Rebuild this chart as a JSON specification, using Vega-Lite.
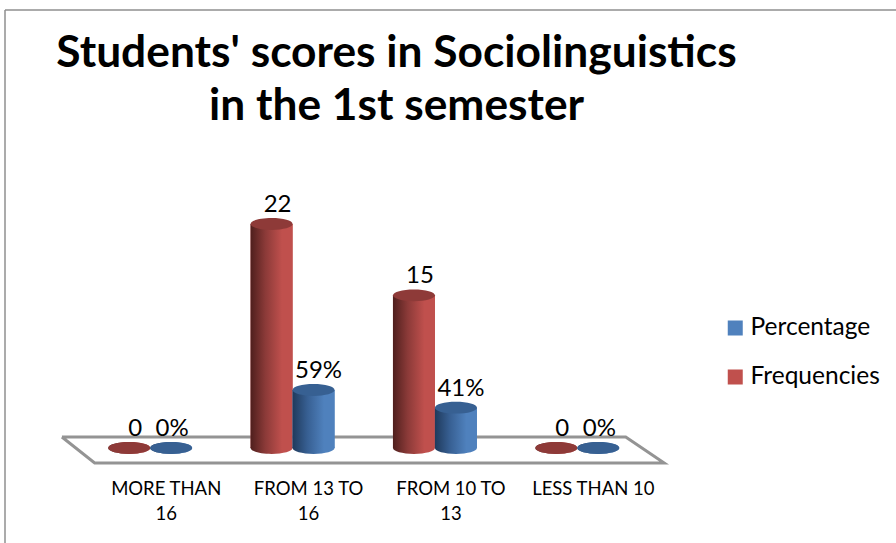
{
"$schema":"https://vega.github.io/schema/vega-lite/v6.json",
"width":891,"height":533,
"autosize":{"type":"none"},
"padding":{"left":5,"top":10,"right":0,"bottom":0},
"background":"white",
"config":{"view":{"stroke":null}},
"title":{"text":["Students' scores in Sociolinguistics","in the 1st semester"],"font":"Lato","fontWeight":"bold","fontSize":44.3,"lineHeight":53,"color":"#000000","anchor":"middle","frame":"group","dx":-54,"baseline":"top","offset":-120},
"datasets":{
"bars":[
{"category":"MORE THAN 16","series":"Frequencies","value":0},
{"category":"FROM 13 TO 16","series":"Frequencies","value":22},
{"category":"FROM 10 TO 13","series":"Frequencies","value":15},
{"category":"LESS THAN 10","series":"Frequencies","value":0},
{"category":"MORE THAN 16","series":"Percentage","value":0},
{"category":"FROM 13 TO 16","series":"Percentage","value":0.59},
{"category":"FROM 10 TO 13","series":"Percentage","value":0.41},
{"category":"LESS THAN 10","series":"Percentage","value":0}
],
"floor":[
{"pos":-0.12,"level":1.08,"step":0},
{"pos":3.84,"level":1.08,"step":1},
{"pos":4.11,"level":-1.47,"step":2},
{"pos":0.11,"level":-1.47,"step":3},
{"pos":-0.12,"level":1.08,"step":4}
],
"frame":[{"edge":0}]
},
"data":{"name":"bars"},
"layer":[
{"data":{"name":"frame"},"mark":{"type":"rule","stroke":"#8f8f8f","strokeWidth":1.5},
 "encoding":{"x":{"field":"edge","type":"quantitative","axis":null,"scale":{"domain":[0,1]}}}},
{"data":{"name":"frame"},"mark":{"type":"rule","stroke":"#8f8f8f","strokeWidth":1.5},
 "encoding":{"y":{"field":"edge","type":"quantitative","axis":null,"scale":{"domain":[0,1],"range":[0,533]}}}},
{"data":{"name":"floor"},"mark":{"type":"line","stroke":"#949494","strokeWidth":3,"strokeJoin":"miter","clip":false},
 "encoding":{
  "x":{"field":"pos","type":"quantitative","axis":null,"scale":{"domain":[0,4],"range":[74,643.5],"zero":false,"nice":false}},
  "y":{"field":"level","type":"quantitative","axis":null,"scale":{"domain":[0,22],"range":[438,214],"zero":false,"nice":false}},
  "order":{"field":"step","type":"quantitative"}}},
{"transform":[{"filter":"datum.series === 'Frequencies'"}],
 "encoding":{
  "x":{"field":"category","type":"nominal","title":null,"sort":null,
   "scale":{"domain":["MORE THAN 16","FROM 13 TO 16","FROM 10 TO 13","LESS THAN 10"],"range":[74,643.5],"paddingInner":0,"paddingOuter":0},
   "axis":{"orient":"bottom","offset":-80,"domain":false,"ticks":false,"labelAngle":0,"labelFont":"Lato","labelFontSize":18.5,"labelColor":"#000000","labelPadding":16,"labelLineHeight":25,"labelLimit":0,"labelBaseline":"top","labelOffset":16,
    "labelExpr":"datum.label === 'MORE THAN 16' ? ['MORE THAN','16'] : datum.label === 'FROM 13 TO 16' ? ['FROM 13 TO','16'] : datum.label === 'FROM 10 TO 13' ? ['FROM 10 TO','13'] : datum.label"}},
  "xOffset":{"field":"series","type":"nominal","scale":{"domain":["Frequencies","Percentage"],"paddingInner":0,"paddingOuter":0.696}},
  "y":{"field":"value","type":"quantitative","axis":null,"stack":null,"scale":{"domain":[0,22],"range":[438,214],"nice":false}}
 },
 "layer":[
  {"mark":{"type":"bar"},"encoding":{"color":{"field":"series","type":"nominal","scale":{"domain":["Percentage","Frequencies"],"range":["#4F81BD","#C0504D"]},
    "legend":{"title":null,"orient":"none","legendX":718,"legendY":306,"symbolType":"square","symbolSize":225,"symbolStrokeWidth":0,"symbolOpacity":1,"labelFont":"Lato","labelFontSize":24.5,"labelColor":"#000000","labelOffset":3,"rowPadding":24,"labelLimit":0,"clipHeight":24}}}},
  {"mark":{"type":"bar","fill":{"gradient":"linear","x1":0,"y1":0,"x2":1,"y2":0,"stops":[{"offset":0,"color":"#4f1f1d"},{"offset":0.35,"color":"#8b3a38"},{"offset":0.75,"color":"#c0504d"},{"offset":1,"color":"#c0504d"}]}}},
  {"mark":{"type":"point","filled":true,"opacity":1,"size":1764,"shape":"M-1,0A1,0.28 0 1,0 1,0A1,0.28 0 1,0 -1,0Z","fill":{"gradient":"linear","x1":0,"y1":0,"x2":1,"y2":0,"stops":[{"offset":0,"color":"#4f1f1d"},{"offset":0.35,"color":"#8b3a38"},{"offset":0.75,"color":"#c0504d"},{"offset":1,"color":"#c0504d"}]}},
   "encoding":{"y":{"datum":0,"type":"quantitative"}}},
  {"mark":{"type":"point","filled":true,"opacity":1,"size":1764,"shape":"M-1,0A1,0.28 0 1,0 1,0A1,0.28 0 1,0 -1,0Z","fill":"#8e3a38"}},
  {"mark":{"type":"text","font":"Lato","fontSize":24,"color":"#000000","baseline":"middle","dx":6,"dy":-19},
   "encoding":{"text":{"field":"value","type":"quantitative","format":"d"}}}
 ]},
{"transform":[{"filter":"datum.series === 'Percentage'"}],
 "encoding":{
  "x":{"field":"category","type":"nominal","title":null,"sort":null,"axis":null,
   "scale":{"domain":["MORE THAN 16","FROM 13 TO 16","FROM 10 TO 13","LESS THAN 10"],"range":[74,643.5],"paddingInner":0,"paddingOuter":0}},
  "xOffset":{"field":"series","type":"nominal","scale":{"domain":["Frequencies","Percentage"],"paddingInner":0,"paddingOuter":0.696}},
  "y":{"field":"value","type":"quantitative","axis":null,"stack":null,"scale":{"domain":[0,0.59],"range":[438,380],"nice":false}}
 },
 "layer":[
  {"mark":{"type":"bar"},"encoding":{"color":{"field":"series","type":"nominal","scale":{"domain":["Percentage","Frequencies"],"range":["#4F81BD","#C0504D"]}}}},
  {"mark":{"type":"bar","fill":{"gradient":"linear","x1":0,"y1":0,"x2":1,"y2":0,"stops":[{"offset":0,"color":"#1f3a5c"},{"offset":0.35,"color":"#375f92"},{"offset":0.75,"color":"#4f81bd"},{"offset":1,"color":"#4f81bd"}]}}},
  {"mark":{"type":"point","filled":true,"opacity":1,"size":1764,"shape":"M-1,0A1,0.28 0 1,0 1,0A1,0.28 0 1,0 -1,0Z","fill":{"gradient":"linear","x1":0,"y1":0,"x2":1,"y2":0,"stops":[{"offset":0,"color":"#1f3a5c"},{"offset":0.35,"color":"#375f92"},{"offset":0.75,"color":"#4f81bd"},{"offset":1,"color":"#4f81bd"}]}},
   "encoding":{"y":{"datum":0,"type":"quantitative"}}},
  {"mark":{"type":"point","filled":true,"opacity":1,"size":1764,"shape":"M-1,0A1,0.28 0 1,0 1,0A1,0.28 0 1,0 -1,0Z","fill":"#376092"}},
  {"transform":[{"filter":"datum.value > 0"}],"mark":{"type":"text","font":"Lato","fontSize":24,"color":"#000000","baseline":"middle","dx":5,"dy":-19},
   "encoding":{"text":{"field":"value","type":"quantitative","format":".0%"}}},
  {"transform":[{"filter":"datum.value === 0"}],"mark":{"type":"text","font":"Lato","fontSize":24,"color":"#000000","baseline":"middle","dx":1,"dy":-19},
   "encoding":{"text":{"field":"value","type":"quantitative","format":".0%"}}}
 ]}
],
"resolve":{"scale":{"x":"independent","y":"independent","xOffset":"independent"}}
}
